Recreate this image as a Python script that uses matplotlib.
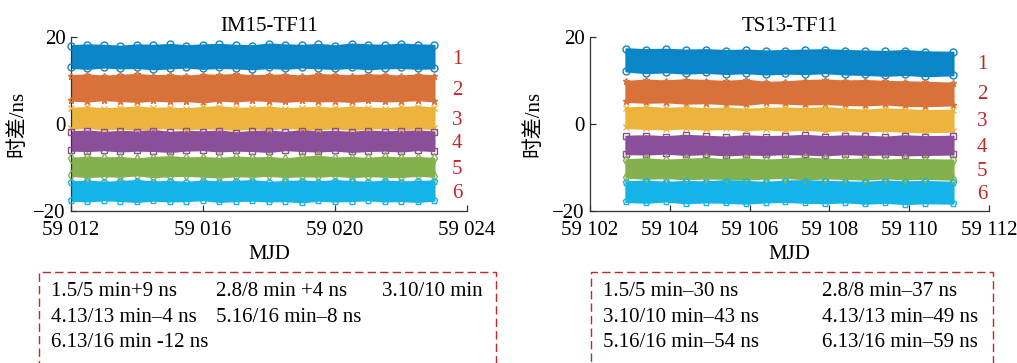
import matplotlib
matplotlib.use("Agg")
from matplotlib import pyplot as plt
from matplotlib.patches import Rectangle
from matplotlib.ticker import FuncFormatter
from matplotlib.transforms import blended_transform_factory

plt.rcParams['font.family'] = ['Liberation Serif', 'Noto Sans CJK SC']
plt.rcParams['font.size'] = 15
plt.rcParams['axes.unicode_minus'] = True

# ---- data: sample times and band envelopes (ns) ----
mjd_a = [59012.0, 59012.5, 59013.0, 59013.5, 59014.0, 59014.5, 59015.0, 59015.5,
         59016.0, 59016.5, 59017.0, 59017.5, 59018.0, 59018.5, 59019.0, 59019.5,
         59020.0, 59020.5, 59021.0, 59021.5, 59022.0, 59022.5, 59023.0]

a1_hi = [18.0, 18.2, 18.1, 17.9, 18.2, 18.1, 18.3, 18.0, 18.2, 18.3, 18.1, 18.0, 18.4, 18.2, 18.1, 18.3, 18.0, 18.4, 18.2, 18.1, 18.4, 18.2, 18.1]
a1_lo = [13.0, 12.8, 13.1, 12.9, 13.0, 12.7, 12.9, 13.1, 12.8, 13.0, 12.9, 12.7, 13.0, 12.8, 13.1, 12.9, 12.8, 13.0, 12.7, 12.9, 13.0, 12.8, 12.9]
a2_hi = [11.1, 11.3, 11.0, 11.2, 11.4, 11.1, 11.2, 11.0, 11.3, 11.2, 11.4, 11.1, 11.2, 11.3, 11.0, 11.4, 11.2, 11.1, 11.3, 11.2, 11.0, 11.3, 11.1]
a2_lo = [5.5, 5.3, 5.6, 5.4, 5.2, 5.5, 5.3, 5.4, 5.1, 5.5, 5.3, 5.6, 5.4, 5.2, 5.5, 5.3, 5.4, 5.2, 5.5, 5.3, 5.4, 5.6, 5.3]
a3_hi = [3.6, 3.8, 3.5, 3.7, 3.9, 3.6, 3.7, 3.5, 3.8, 4.0, 3.6, 3.7, 3.9, 3.5, 3.7, 3.8, 3.6, 3.9, 3.7, 3.5, 3.8, 4.0, 3.7]
a3_lo = [-1.0, -0.8, -1.1, -0.9, -1.2, -1.0, -0.8, -1.1, -0.9, -1.0, -1.2, -0.9, -1.1, -0.8, -1.0, -1.1, -0.9, -1.2, -1.0, -0.8, -1.1, -0.9, -1.0]
a4_hi = [-1.8, -1.6, -1.9, -1.7, -1.8, -1.5, -1.9, -1.7, -1.8, -1.6, -2.0, -1.7, -1.6, -1.9, -1.5, -1.8, -1.7, -1.9, -1.6, -1.8, -1.7, -1.6, -1.8]
a4_lo = [-6.0, -6.1, -5.9, -6.2, -6.0, -6.1, -6.3, -6.0, -5.9, -6.2, -6.0, -6.1, -6.3, -5.9, -6.1, -6.2, -6.0, -6.3, -6.1, -6.0, -6.2, -5.9, -6.1]
a5_hi = [-7.9, -7.6, -7.8, -7.7, -8.0, -7.7, -7.5, -7.8, -7.7, -7.9, -7.6, -7.8, -7.7, -8.0, -7.6, -7.4, -7.8, -7.7, -7.9, -7.6, -7.8, -7.7, -7.9]
a5_lo = [-11.8, -12.1, -11.9, -12.0, -11.7, -12.1, -11.9, -11.8, -12.0, -12.2, -11.9, -12.0, -11.8, -12.1, -11.9, -12.0, -11.8, -12.1, -11.9, -12.0, -12.1, -11.8, -12.0]
a6_hi = [-13.3, -13.1, -13.4, -13.2, -13.0, -13.3, -13.2, -13.4, -13.1, -13.3, -13.2, -13.0, -13.4, -13.2, -13.1, -13.3, -13.0, -13.2, -13.4, -13.1, -13.3, -13.2, -13.1]
a6_lo = [-17.5, -17.7, -17.4, -17.6, -17.8, -17.5, -17.7, -17.6, -17.4, -17.8, -17.6, -17.5, -17.7, -17.6, -17.9, -17.5, -17.7, -17.6, -17.4, -17.7, -17.6, -17.8, -17.5]

mjd_b = [59102.9, 59103.4, 59103.9, 59104.4, 59104.9, 59105.4, 59105.9, 59106.4, 59106.9,
         59107.4, 59107.9, 59108.4, 59108.9, 59109.4, 59109.9, 59110.4, 59111.1]

b1_hi = [17.3, 17.1, 17.2, 17.0, 17.1, 16.9, 17.0, 16.8, 16.9, 17.0, 17.1, 16.9, 16.8, 16.7, 16.9, 16.6, 16.5]
b1_lo = [12.2, 11.8, 12.0, 11.7, 11.9, 11.6, 11.8, 11.5, 11.7, 11.6, 11.8, 11.5, 11.4, 11.2, 11.4, 11.1, 11.3]
b2_hi = [9.8, 10.1, 9.9, 10.2, 10.0, 9.8, 10.1, 9.6, 9.7, 10.0, 10.1, 9.9, 10.0, 9.8, 9.7, 9.6, 9.4]
b2_lo = [5.2, 5.0, 5.1, 4.8, 4.9, 4.7, 4.5, 5.0, 4.8, 4.6, 4.7, 4.5, 4.4, 4.6, 4.3, 4.2, 4.4]
b3_hi = [3.7, 3.9, 3.6, 3.8, 3.5, 3.7, 3.4, 3.6, 3.7, 3.5, 3.8, 3.4, 3.2, 3.5, 3.3, 3.1, 3.2]
b3_lo = [-0.8, -1.0, -1.1, -0.9, -1.2, -1.0, -1.3, -1.1, -1.4, -1.2, -1.5, -1.3, -1.6, -1.4, -1.7, -1.8, -1.6]
b4_hi = [-2.8, -2.7, -2.9, -2.6, -2.8, -3.0, -2.7, -2.9, -2.8, -2.6, -2.9, -2.7, -2.8, -3.0, -2.7, -2.9, -2.8]
b4_lo = [-6.8, -6.9, -6.7, -7.0, -6.8, -7.1, -6.9, -7.0, -6.8, -6.9, -7.1, -6.8, -7.0, -6.9, -7.1, -7.0, -6.9]
b5_hi = [-8.2, -8.0, -8.3, -8.1, -7.9, -8.2, -8.0, -8.3, -8.1, -7.8, -8.1, -8.2, -8.0, -8.3, -8.1, -8.2, -8.3]
b5_lo = [-12.2, -12.5, -12.3, -12.6, -12.4, -12.5, -12.7, -12.4, -12.3, -12.6, -12.4, -12.5, -12.7, -12.4, -12.6, -12.5, -12.7]
b6_hi = [-13.3, -13.1, -13.4, -13.2, -13.3, -13.0, -13.2, -13.4, -13.1, -13.0, -13.2, -13.3, -13.4, -13.1, -13.3, -13.2, -13.4]
b6_lo = [-17.8, -18.0, -17.7, -18.1, -17.9, -18.0, -18.2, -17.9, -17.8, -18.0, -18.1, -17.9, -18.2, -18.0, -18.3, -18.1, -18.2]

band_labels = ['1', '2', '3', '4', '5', '6']
titles = ['IM15-TF11', 'TS13-TF11']
xlims = [(59012, 59024), (59102, 59112)]
xticks = [[59012, 59016, 59020, 59024], [59102, 59104, 59106, 59108, 59110, 59112]]
yticks = [-20, 0, 20]

notes_a = [['1.5/5 min+9 ns', '2.8/8 min +4 ns', '3.10/10 min'],
           ['4.13/13 min\u20134 ns', '5.16/16 min\u20138 ns'],
           ['6.13/16 min -12 ns']]
notes_b = [['1.5/5 min\u201330 ns', '2.8/8 min\u201337 ns'],
           ['3.10/10 min\u201343 ns', '4.13/13 min\u201349 ns'],
           ['5.16/16 min\u201354 ns', '6.13/16 min\u201359 ns']]

colors = ['#0a86c8', '#d9713a', '#ecb43c', '#8b4f99', '#84b04e', '#14b4e8']
markers = ['o', '*', 'x', 's', 'd', 'p']
red = '#c1272d'

panels = [
    (mjd_a, [(a1_lo, a1_hi), (a2_lo, a2_hi), (a3_lo, a3_hi),
             (a4_lo, a4_hi), (a5_lo, a5_hi), (a6_lo, a6_hi)]),
    (mjd_b, [(b1_lo, b1_hi), (b2_lo, b2_hi), (b3_lo, b3_hi),
             (b4_lo, b4_hi), (b5_lo, b5_hi), (b6_lo, b6_hi)]),
]

fig = plt.figure(figsize=(10.17, 3.63), dpi=100)
axes = [fig.add_axes([0.0698, 0.4187, 0.3894, 0.4793]),
        fig.add_axes([0.5801, 0.4187, 0.3923, 0.4793])]
label_x = [0.962, 0.97]
ylab_x = [-0.109, -0.118]

fmt = FuncFormatter(lambda v, p: '{:,.0f}'.format(v).replace(',', ' '))

for k, ax in enumerate(axes):
    mjd, bands = panels[k]
    for i, (lo, hi) in enumerate(bands):
        c = colors[i]
        ax.fill_between(mjd, lo, hi, color=c, lw=1.5, ec=c, zorder=2)
        for edge in (hi, lo):
            ax.plot(mjd, edge, ls='none', marker=markers[i], ms=5, mfc='none',
                    mec=c, mew=1.0, zorder=3, clip_on=False)
        yc = (sum(lo) + sum(hi)) / (2 * len(lo)) - 0.6
        tr = blended_transform_factory(ax.transAxes, ax.transData)
        ax.text(label_x[k], yc, band_labels[i], color=red, transform=tr,
                ha='left', va='center', fontsize=15)

    ax.set_xlim(*xlims[k])
    ax.set_ylim(-20, 20)
    ax.set_xticks(xticks[k])
    ax.set_yticks(yticks)
    ax.xaxis.set_major_formatter(fmt)
    ax.spines['top'].set_visible(False)
    ax.spines['right'].set_visible(False)
    for s in ('left', 'bottom'):
        ax.spines[s].set_color('#333333')
        ax.spines[s].set_linewidth(0.9)
    ax.tick_params(axis='x', direction='in', length=4, width=0.9, pad=7, color='#333333')
    ax.tick_params(axis='y', direction='in', length=4, width=0.9, pad=4, color='#333333')
    ax.set_title(titles[k], fontsize=15, pad=4)
    ax.set_xlabel('MJD', fontsize=15)
    ax.xaxis.set_label_coords(0.5, -0.195)
    ax.set_ylabel('时差/ns', fontsize=15)
    ax.yaxis.set_label_coords(ylab_x[k], 0.5)

# dashed note boxes below the panels
boxes = [(0.0383, 0.4494), (0.5811, 0.3953)]
for x0, w in boxes:
    fig.patches.append(Rectangle((x0, -0.2), w, 0.2 + 0.2507, transform=fig.transFigure,
                                 fill=False, ec=red, lw=1.0, ls=(0, (6, 3))))

rows_y = [0.1956, 0.124, 0.0551]
cols_a = [0.0501, 0.2124, 0.3756]
cols_b = [0.5929, 0.8083]
for r, row in enumerate(notes_a):
    for c, t in enumerate(row):
        fig.text(cols_a[c], rows_y[r], t, ha='left', va='center', fontsize=15)
for r, row in enumerate(notes_b):
    for c, t in enumerate(row):
        fig.text(cols_b[c], rows_y[r], t, ha='left', va='center', fontsize=15)

fig.savefig('out.png', dpi=100)
